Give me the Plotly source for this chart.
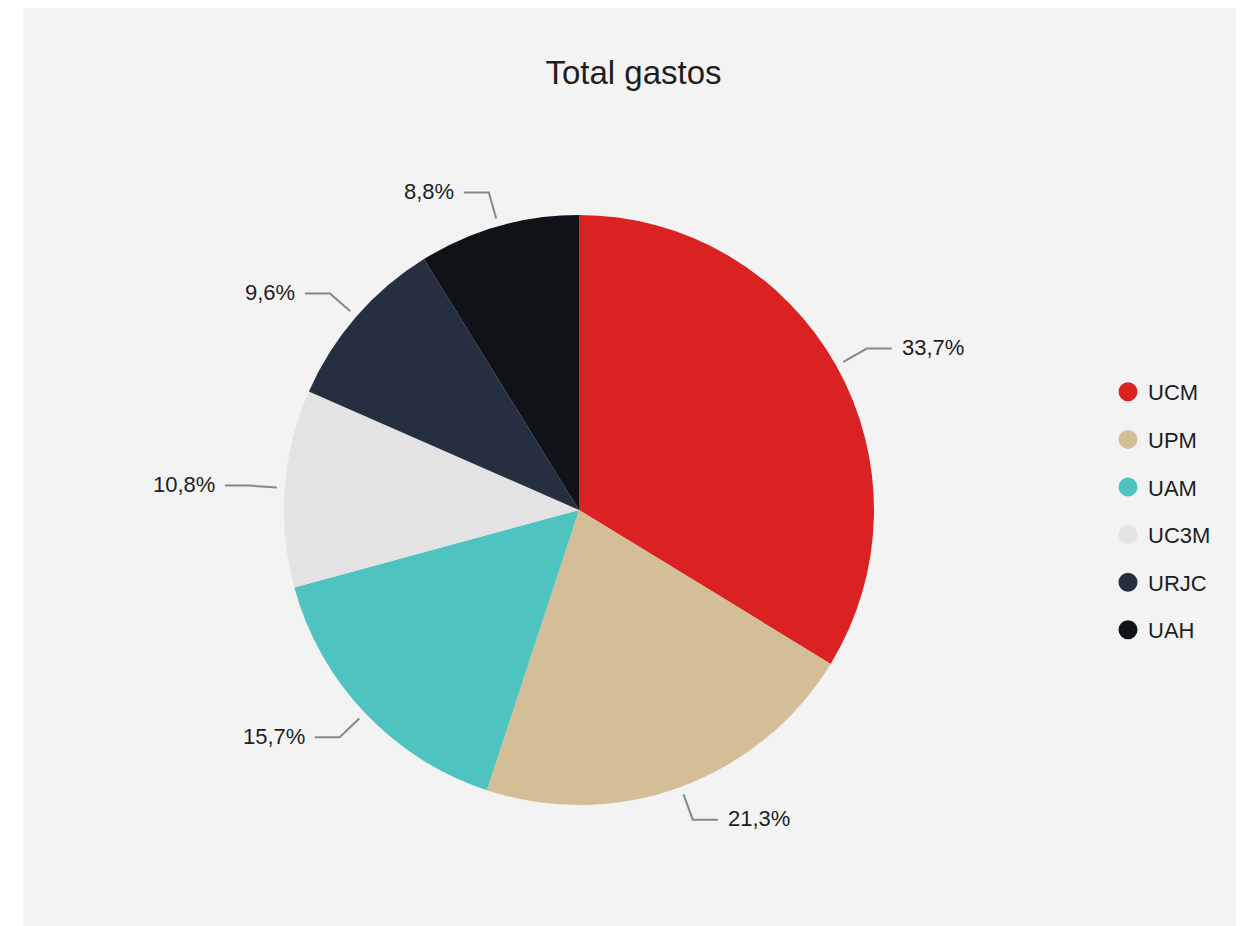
import math
import plotly.graph_objects as go

# ---- data ----
universidades = ["UCM", "UPM", "UAM", "UC3M", "URJC", "UAH"]
porcentajes = [33.7, 21.3, 15.7, 10.8, 9.6, 8.8]
colores = ["#DA2222", "#D4BE98", "#4EC3BF", "#E3E3E3", "#252F3F", "#0F1318"]
titulo = "Total gastos"

# ---- layout geometry (figure pixels) ----
W, H = 1236, 918
ML = 15                      # left white strip
CX, CY, R = 571, 502, 295    # pie centre and radius
FONT = "Liberation Sans, Arial, Helvetica, sans-serif"

PW = W - ML


def px_to_paper_x(px):
    return (px - ML) / PW


def px_to_paper_y(py):
    return 1 - py / H


fig = go.Figure()

fig.add_trace(go.Pie(
    labels=universidades,
    values=porcentajes,
    sort=False,
    direction="clockwise",
    rotation=0,
    textinfo="none",
    hoverinfo="label+percent",
    marker=dict(colors=colores, line=dict(width=0)),
    showlegend=False,
    domain=dict(x=[px_to_paper_x(CX - R), px_to_paper_x(CX + R)],
                y=[px_to_paper_y(CY + R), px_to_paper_y(CY - R)]),
))

# legend entries with round symbols
for u, c in zip(universidades, colores):
    fig.add_trace(go.Scatter(
        x=[None], y=[None], mode="markers", name=u, legendgroup=u,
        marker=dict(size=20, color=c, symbol="circle", line=dict(color=c, width=3)),
        showlegend=True, hoverinfo="skip",
    ))

# outside labels with leader lines, derived from the data
total = sum(porcentajes)
cum = 0.0
shapes = [dict(type="rect", xref="paper", yref="paper",
               x0=-ML / PW - 0.01, x1=0, y0=-0.01, y1=1.01,
               fillcolor="#FFFFFF", line=dict(width=0), layer="below")]
annotations = []
for v in porcentajes:
    mid = (cum + v / 2) / total
    cum += v
    th = 2 * math.pi * mid
    ux, uy = math.sin(th), -math.cos(th)
    x1, y1 = CX + (R + 8) * ux, CY + (R + 8) * uy
    x2, y2 = CX + (R + 35) * ux, CY + (R + 35) * uy
    sgn = 1 if ux >= 0 else -1
    x3 = x2 + sgn * 25
    shapes.append(dict(type="path", xref="x", yref="y",
                       path=f"M{x1:.1f},{y1:.1f} L{x2:.1f},{y2:.1f} L{x3:.1f},{y2:.1f}",
                       line=dict(color="#888888", width=2)))
    annotations.append(dict(
        x=x3 + sgn * 8, y=y2 - 1, xref="x", yref="y",
        text=f"{v:.1f}%".replace(".", ","), showarrow=False,
        xanchor="left" if sgn > 0 else "right", yanchor="middle",
        font=dict(family=FONT, size=22, color="#1E1E1E"),
    ))

fig.update_layout(
    width=W, height=H,
    margin=dict(l=ML, r=0, t=0, b=0, pad=0),
    paper_bgcolor="#F3F3F3",
    plot_bgcolor="rgba(0,0,0,0)",
    font=dict(family=FONT, color="#1E1E1E"),
    title=dict(text=titulo, x=0.5, xref="paper", xanchor="center",
               y=px_to_paper_y(64), yref="container", yanchor="middle",
               font=dict(family=FONT, size=33, color="#1E1E1E")),
    xaxis=dict(visible=False, range=[ML, W], fixedrange=True),
    yaxis=dict(visible=False, range=[H, 0], fixedrange=True),
    shapes=shapes,
    annotations=annotations,
    legend=dict(x=px_to_paper_x(1100), xanchor="left",
                y=px_to_paper_y(503), yanchor="middle",
                traceorder="grouped", tracegroupgap=16,
                itemsizing="trace",
                bgcolor="rgba(0,0,0,0)",
                font=dict(family=FONT, size=22, color="#1E1E1E")),
    showlegend=True,
)

fig.write_html("out.html")
